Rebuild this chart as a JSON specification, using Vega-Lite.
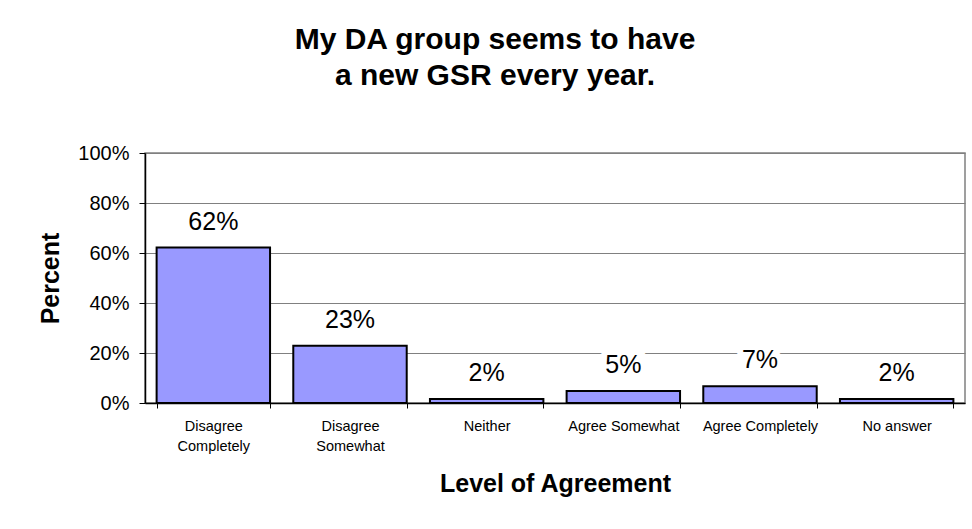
{
  "$schema": "https://vega.github.io/schema/vega-lite/v6.json",
  "autosize": "none",
  "padding": {"left": 145, "top": 153, "right": 7, "bottom": 126},
  "width": 820,
  "height": 250,
  "background": "white",
  "title": {
    "text": ["My DA group seems to have", "a new GSR every year."],
    "font": "Liberation Sans",
    "fontSize": 30,
    "fontWeight": "bold",
    "lineHeight": 36,
    "color": "black",
    "anchor": "middle",
    "dx": -60,
    "offset": 52
  },
  "config": {
    "font": "Liberation Sans",
    "view": {"stroke": "#808080", "strokeWidth": 1.5}
  },
  "data": {
    "values": [
      {"level": "Disagree Completely", "pct": 0.622},
      {"level": "Disagree Somewhat", "pct": 0.229},
      {"level": "Neither", "pct": 0.016},
      {"level": "Agree Somewhat", "pct": 0.048},
      {"level": "Agree Completely", "pct": 0.067},
      {"level": "No answer", "pct": 0.016}
    ]
  },
  "encoding": {
    "x": {
      "field": "level",
      "type": "nominal",
      "sort": null,
      "scale": {"paddingInner": 0.17, "paddingOuter": 0.085},
      "axis": {
        "title": "Level of Agreement",
        "titleFont": "Liberation Sans",
        "titleFontSize": 25,
        "titleFontWeight": "bold",
        "titleColor": "black",
        "titlePadding": 19,
        "labelAngle": 0,
        "labelFontSize": 14.5,
        "labelColor": "black",
        "labelPadding": 11,
        "labelLineHeight": 20,
        "labelExpr": "indexof(datum.label, 'Disagree') == 0 ? split(datum.label, ' ') : datum.label",
        "tickBand": "extent",
        "tickSize": 5,
        "tickColor": "black",
        "domainColor": "black",
        "domainWidth": 1.5,
        "grid": false
      }
    },
    "y": {
      "field": "pct",
      "type": "quantitative",
      "scale": {"domain": [0, 1], "nice": false},
      "axis": {
        "title": "Percent",
        "titleFont": "Liberation Sans",
        "titleFontSize": 25,
        "titleFontWeight": "bold",
        "titleColor": "black",
        "titlePadding": 14,
        "format": ".0%",
        "values": [0, 0.2, 0.4, 0.6, 0.8, 1],
        "labelFontSize": 20,
        "labelColor": "black",
        "labelPadding": 10,
        "tickSize": 6,
        "tickColor": "black",
        "domainColor": "black",
        "domainWidth": 1.5,
        "grid": true,
        "gridColor": "#808080",
        "gridWidth": 1.2
      }
    }
  },
  "layer": [
    {
      "mark": {"type": "bar", "fill": "#9999FF", "stroke": "black", "strokeWidth": 2}
    },
    {
      "mark": {"type": "text", "fontSize": 25, "dy": -18, "baseline": "alphabetic", "stroke": "white", "strokeWidth": 12, "fill": "white"},
      "encoding": {"text": {"field": "pct", "type": "quantitative", "format": ".0%"}}
    },
    {
      "mark": {"type": "text", "fontSize": 25, "dy": -18, "baseline": "alphabetic", "color": "black"},
      "encoding": {"text": {"field": "pct", "type": "quantitative", "format": ".0%"}}
    }
  ]
}
